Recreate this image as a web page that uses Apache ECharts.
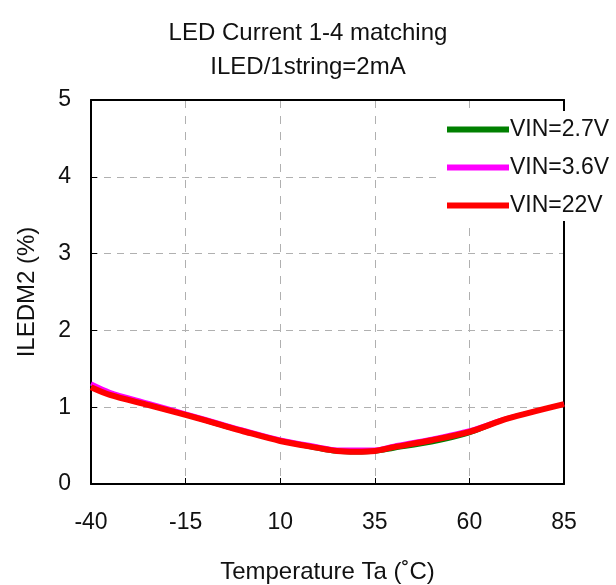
<!DOCTYPE html>
<html>
<head>
<meta charset="utf-8">
<script src="https://cdn.jsdelivr.net/npm/echarts@6/dist/echarts.min.js"></script>
<style>html,body{margin:0;padding:0;background:#fff}#c{width:616px;height:585px}</style>
</head>
<body>
<div id="c"></div>
<script>
var temps = [-40, -35, -25, -15, -5, 0, 10, 20, 25, 30, 35, 40, 50, 60, 70, 85];
var vin27 = [1.30, 1.18, 1.04, 0.90, 0.75, 0.69, 0.56, 0.46, 0.42, 0.41, 0.42, 0.46, 0.54, 0.66, 0.85, 1.04];
var vin36 = [1.31, 1.20, 1.06, 0.92, 0.78, 0.71, 0.58, 0.49, 0.45, 0.45, 0.45, 0.50, 0.59, 0.70, 0.86, 1.04];
var vin22 = [1.26, 1.16, 1.03, 0.90, 0.76, 0.69, 0.56, 0.47, 0.43, 0.42, 0.43, 0.48, 0.57, 0.68, 0.85, 1.04];
var xTickLabels = ['-40', '-15', '10', '35', '60', '85'];
var seriesNames = ['VIN=2.7V', 'VIN=3.6V', 'VIN=22V'];

function pairs(vals) { return temps.map(function (t, i) { return [t, vals[i]]; }); }

var font = 'Liberation Sans, Arial, sans-serif';
var chart = echarts.init(document.getElementById('c'));
chart.setOption({
  animation: false,
  backgroundColor: '#fff',
  title: {
    text: 'LED Current 1-4 matching\nILED/1string=2mA',
    left: 'center', top: 11,
    textStyle: { fontFamily: font, fontSize: 24, fontWeight: 'normal', color: '#111', lineHeight: 34 }
  },
  grid: { left: 91, right: 52, top: 100, bottom: 101, containLabel: false, outerBoundsMode: 'none' },
  legend: {
    orient: 'vertical', left: 441, top: 111,
    backgroundColor: '#fff', padding: [7, 4, 4, 6],
    itemWidth: 62, itemHeight: 6, itemGap: 15, icon: 'rect',
    textStyle: { fontFamily: font, fontSize: 23, color: '#111', padding: [0, 0, 0, -4] },
    data: seriesNames
  },
  xAxis: [
    {
      type: 'value', min: -40, max: 85, show: false
    },
    {
      type: 'value', min: 0, max: 125, interval: 25, position: 'bottom',
      name: 'Temperature Ta (\u02DAC)', nameLocation: 'middle', nameGap: 76,
      nameTextStyle: { fontFamily: font, fontSize: 24, color: '#111' },
      axisLine: { show: true, onZero: false, lineStyle: { color: '#000', width: 2 } },
      axisTick: { show: true, inside: true, length: 6, lineStyle: { color: '#000', width: 1 } },
      axisLabel: { margin: 27, fontFamily: font, fontSize: 23, color: '#111',
        formatter: function (v) { return xTickLabels[Math.round(v / 25)]; } },
      splitLine: { show: true, lineStyle: { color: '#b0b0b0', type: [8, 8], width: 1 } }
    },
    {
      type: 'value', min: -40, max: 85, position: 'top',
      axisLine: { show: true, onZero: false, lineStyle: { color: '#000', width: 2 } },
      axisTick: { show: false }, axisLabel: { show: false }, splitLine: { show: false }
    }
  ],
  yAxis: [
    {
      type: 'value', min: 0, max: 5, interval: 1, position: 'left',
      name: 'ILEDM2 (%)', nameLocation: 'middle', nameGap: 52,
      nameTextStyle: { fontFamily: font, fontSize: 24, color: '#111' },
      axisLine: { show: true, onZero: false, lineStyle: { color: '#000', width: 2 } },
      axisTick: { show: true, inside: true, length: 6, lineStyle: { color: '#000', width: 1 } },
      axisLabel: { margin: 20, fontFamily: font, fontSize: 23, color: '#111' },
      splitLine: { show: true, lineStyle: { color: '#b0b0b0', type: [7, 6], width: 1 } }
    },
    {
      type: 'value', min: 0, max: 5, position: 'right',
      axisLine: { show: true, onZero: false, lineStyle: { color: '#000', width: 2 } },
      axisTick: { show: false }, axisLabel: { show: false }, splitLine: { show: false }
    }
  ],
  series: [
    { name: seriesNames[0], type: 'line', xAxisIndex: 0, yAxisIndex: 0, data: pairs(vin27), showSymbol: false, smooth: 0.3,
      lineStyle: { color: '#008000', width: 4 }, itemStyle: { color: '#008000' } },
    { name: seriesNames[1], type: 'line', xAxisIndex: 0, yAxisIndex: 0, data: pairs(vin36), showSymbol: false, smooth: 0.3,
      lineStyle: { color: '#ff00ff', width: 4 }, itemStyle: { color: '#ff00ff' } },
    { name: seriesNames[2], type: 'line', xAxisIndex: 0, yAxisIndex: 0, data: pairs(vin22), showSymbol: false, smooth: 0.3,
      lineStyle: { color: '#ff0000', width: 6 }, itemStyle: { color: '#ff0000' } }
  ]
});
</script>
</body>
</html>
